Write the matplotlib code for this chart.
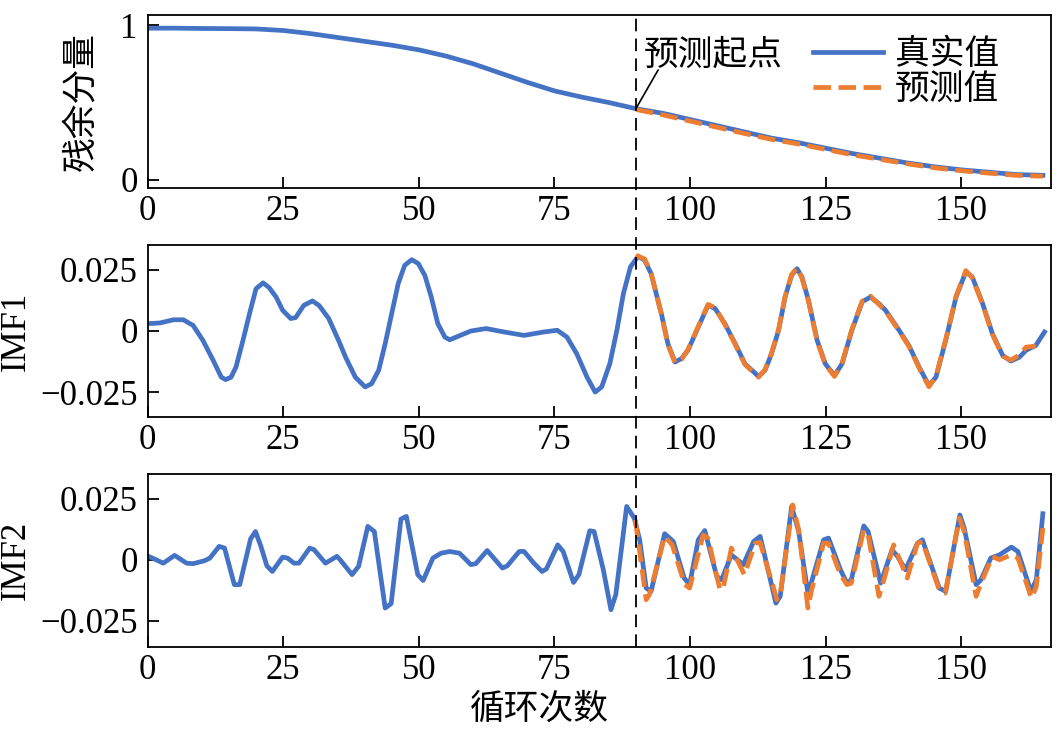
import matplotlib
matplotlib.use("Agg")
import matplotlib.pyplot as plt
from matplotlib.lines import Line2D
from matplotlib.transforms import blended_transform_factory

plt.rcParams['font.family'] = ['Liberation Serif', 'Noto Sans CJK SC']
plt.rcParams['axes.unicode_minus'] = True

blue = '#4472C4'
orange = '#ED7D31'

# 残余分量
res_x = [0, 5, 10, 15, 20, 25, 30, 35, 40, 45, 50, 55, 60, 65, 70, 75, 80, 85,
         90, 95, 100, 105, 110, 115, 120, 125, 130, 135, 140, 145, 150, 155, 160, 165]
res_true = [0.98, 0.98, 0.978, 0.977, 0.975, 0.965, 0.945, 0.92, 0.895, 0.87, 0.84,
            0.80, 0.75, 0.69, 0.63, 0.575, 0.535, 0.50, 0.46, 0.43, 0.39, 0.35,
            0.31, 0.27, 0.24, 0.205, 0.17, 0.14, 0.11, 0.085, 0.065, 0.05, 0.035, 0.03]
res_pred_x = [90, 95, 100, 105, 110, 115, 120, 125, 130, 135, 140, 145, 150, 155, 160, 165]
res_pred = [0.455, 0.42, 0.38, 0.34, 0.30, 0.262, 0.232, 0.197, 0.162, 0.133, 0.104,
            0.079, 0.059, 0.044, 0.03, 0.024]

# IMF1
imf1_x = [0, 2.3, 4.8, 6.6, 8.4, 10.2, 12.1, 13.6, 14.4, 15.4, 16.3, 17.6, 18.8, 20,
          21.3, 22.4, 23.7, 24.9, 26.4, 27.3, 28.8, 30.4, 31.6, 33.4, 35.2, 36.5, 38.3,
          40.1, 41.3, 42.6, 43.8, 45, 46.2, 47.4, 48.7, 49.9, 51.1, 52.3, 53.5, 54.8,
          55.7, 57.2, 59.6, 62.4, 65.7, 69.4, 73, 75.5, 77.3, 79.1, 81, 82.5, 83.7, 85.2,
          86.5, 87.7, 89, 90.4, 91.6, 92.8, 94.7, 95.9, 97.2, 98.4, 99.6, 101.5, 103.3,
          104.6, 106.4, 108.3, 110.1, 112.6, 113.8, 115, 116.3, 117.5, 118.7, 119.7,
          120.6, 121.8, 123.4, 124.9, 126.6, 128, 129.8, 131.7, 133.2, 134.8, 136, 138.5,
          140.3, 142.2, 144, 145.3, 147.1, 149, 150.8, 152, 153.9, 155.7, 157.6, 159.1,
          160.7, 161.9, 163.7, 165.3]
imf1_true = [0.003, 0.0033, 0.0046, 0.0046, 0.0023, -0.0038, -0.012, -0.0189, -0.0199,
             -0.0189, -0.0148, -0.0038, 0.0071, 0.0173, 0.0197, 0.0178, 0.0139, 0.0085,
             0.0051, 0.0055, 0.0105, 0.0123, 0.0105, 0.0051, -0.0038, -0.0107, -0.0189,
             -0.0229, -0.0216, -0.0161, -0.0052, 0.0071, 0.0194, 0.0269, 0.0292, 0.0276,
             0.0228, 0.0139, 0.003, -0.0025, -0.0036, -0.0022, 0.0, 0.001, -0.0004,
             -0.0018, -0.0004, 0.0003, -0.0025, -0.0093, -0.0189, -0.025, -0.0229,
             -0.0134, 0.0003, 0.0153, 0.0262, 0.0306, 0.029, 0.0235, 0.0071, -0.0052,
             -0.0127, -0.0113, -0.0079, 0.0016, 0.0105, 0.0092, 0.003, -0.0052, -0.0134,
             -0.0186, -0.0161, -0.0093, 0.0003, 0.0139, 0.0228, 0.0255, 0.0221, 0.0126,
             -0.0038, -0.0134, -0.0182, -0.0134, 0.0003, 0.0119, 0.0139, 0.0112, 0.0085,
             0.0003, -0.0059, -0.0148, -0.0223, -0.0189, -0.0038, 0.0139, 0.0242, 0.0221,
             0.0112, -0.0011, -0.01, -0.0123, -0.0107, -0.0079, -0.0059, -0.0004]
imf1_pred_x = [90, 91.6, 92.8, 94.7, 95.9, 97.2, 98.4, 99.6, 101.5, 103.3, 104.6, 106.4,
               108.3, 110.1, 112.6, 113.8, 115, 116.3, 117.5, 118.7, 119.7, 120.6, 121.8,
               123.4, 124.9, 126.6, 128, 129.8, 131.7, 133.2, 134.8, 136, 138.5, 140.3,
               142.2, 144, 145.3, 147.1, 149, 150.8, 152, 153.9, 155.7, 157.6, 159.1,
               160.7, 161.9, 163.7]
imf1_pred = [0.031, 0.0295, 0.0238, 0.0068, -0.0055, -0.013, -0.0116, -0.0076, 0.0019,
             0.0109, 0.0095, 0.0027, -0.0055, -0.0137, -0.0189, -0.0158, -0.009, 0.0006,
             0.0142, 0.0231, 0.0259, 0.0218, 0.0123, -0.0041, -0.0137, -0.0186, -0.0131,
             0.0006, 0.0122, 0.0143, 0.0109, 0.0082, 0.0, -0.0062, -0.0151, -0.0228,
             -0.0186, -0.0035, 0.0142, 0.0247, 0.0218, 0.0109, -0.0014, -0.0103, -0.0119,
             -0.0098, -0.0066, -0.0062]

# IMF2
imf2_x = [0, 1.4, 2.9, 5, 7.2, 8.4, 10.5, 11.5, 13.2, 14.2, 16, 17, 19, 19.9, 20.9, 22,
          23, 24.9, 25.8, 27, 27.9, 29.9, 30.7, 32.8, 34.9, 35.5, 37.7, 38.9, 40.6, 41.8,
          43.8, 44.9, 46.7, 47.7, 49.8, 50.8, 52.6, 54.1, 55.7, 57.5, 59.6, 60.5, 62.6,
          63.3, 65.4, 66.3, 68.5, 69.4, 71.2, 72.7, 73.5, 75.6, 76.6, 78.5, 79.5, 81.5,
          82.3, 84, 85.4, 86.3, 88.3, 89.7, 90.7, 91.9, 92.8, 95.3, 96.9, 98.9, 99.9,
          101.5, 102.7, 104.9, 105.8, 107.6, 109.8, 111.7, 112.9, 115.8, 116.6, 118.7,
          120, 121.7, 122.4, 124.6, 125.5, 127.7, 128.9, 129.7, 132, 132.8, 135.1, 137.2,
          138.2, 139.7, 141.9, 142.8, 145.9, 147.1, 149.7, 150.5, 152.7, 153.6, 155.4,
          157, 159.2, 160.4, 162.8, 163.8, 165]
imf2_true = [0.0016, 0.0002, -0.0014, 0.0018, -0.0014, -0.0016, -0.0004, 0.0007, 0.0055,
             0.0048, -0.0102, -0.0102, 0.0086, 0.0116, 0.0055, -0.0025, -0.0048, 0.0011,
             0.0007, -0.0014, -0.0014, 0.0048, 0.0041, -0.0014, 0.0014, 0.0, -0.0061,
             -0.0027, 0.0137, 0.0116, -0.0198, -0.018, 0.0167, 0.0178, -0.0061, -0.0085,
             0.0007, 0.0027, 0.0034, 0.0027, -0.002, -0.0016, 0.0038, 0.002, -0.0034,
             -0.0025, 0.0034, 0.0034, -0.0014, -0.0048, -0.0038, 0.0061, 0.0034, -0.0093,
             -0.0061, 0.0119, 0.0116, -0.0041, -0.0205, -0.0143, 0.0219, 0.0171, 0.0082,
             -0.0116, -0.013, 0.0107, 0.0075, -0.0075, -0.0102, 0.0082, 0.012, -0.0068,
             -0.0082, 0.002, -0.002, 0.0075, 0.0096, -0.0178, -0.015, 0.0219, 0.0116,
             -0.0137, -0.0089, 0.0082, 0.0089, -0.0041, -0.0096, -0.0082, 0.0139, 0.0116,
             -0.0096, 0.0041, 0.0014, -0.0041, 0.0068, 0.0082, -0.0116, -0.013, 0.0184,
             0.013, -0.0102, -0.0082, 0.0007, 0.002, 0.0052, 0.0034, -0.013, -0.0082, 0.0189]
imf2_pred_x = [89.9, 91.9, 92.5, 95.3, 96.7, 99, 99.9, 102.4, 103.3, 105.5, 106.1, 107.6,
               110, 112, 112.9, 116, 116.6, 118.9, 120, 121.7, 122.4, 124.6, 125.5, 127.7,
               128.9, 129.7, 132, 132.8, 134.8, 135.7, 137.5, 140, 141.9, 142.8, 145.9,
               147, 149.6, 150.5, 152.7, 153.6, 155.7, 157, 159.2, 160.4, 162.9, 163.8, 165]
imf2_pred = [0.0164, -0.0164, -0.0143, 0.0096, 0.0061, -0.0102, -0.0116, 0.0102, 0.0088,
             -0.0123, -0.0116, 0.0048, -0.0061, 0.0068, 0.0071, -0.0164, -0.0143, 0.0225,
             0.0123, -0.0198, -0.0123, 0.0068, 0.0068, -0.0061, -0.0102, -0.0096, 0.0123,
             0.0102, -0.015, -0.0082, 0.0061, -0.0075, 0.0068, 0.0075, -0.0123, -0.0137,
             0.0171, 0.0116, -0.015, -0.0096, 0.0014, 0.0, 0.002, 0.0007, -0.0157,
             -0.0109, 0.013]

fig = plt.figure(figsize=(10.56, 7.29), dpi=100)
W, H = 1056, 729
left = 147.5 / W
width = (1051 - 147.5) / W
boxes = [(15, 188), (245, 417), (474, 647)]
axes = []
for top, bot in boxes:
    ax = fig.add_axes([left, 1 - bot / H, width, (bot - top) / H])
    axes.append(ax)
ax1, ax2, ax3 = axes

lw = 3.4
ax1.plot(res_x, res_true, color=blue, lw=lw, label='真实值')
ax1.plot(res_pred_x, res_pred, color=orange, lw=lw, ls='--', label='预测值')
ax2.plot(imf1_x, imf1_true, color=blue, lw=lw)
ax2.plot(imf1_pred_x, imf1_pred, color=orange, lw=lw, ls='--')
ax3.plot(imf2_x, imf2_true, color=blue, lw=lw)
ax3.plot(imf2_pred_x, imf2_pred, color=orange, lw=lw, ls='--')

fs = 25
for ax in axes:
    ax.set_xlim(0, 166.5)
    ax.set_xticks([0, 25, 50, 75, 100, 125, 150])
    ax.tick_params(direction='in', length=8, width=1.3, labelsize=fs, top=False, right=False)
    ax.tick_params(axis='x', pad=5)
    ax.tick_params(axis='y', pad=7)
    for s in ax.spines.values():
        s.set_linewidth(1.3)

ax1.set_ylim(-0.052, 1.065)
ax1.set_yticks([0, 1])
ax1.set_yticklabels(['0', '1'])
ax2.set_ylim(-0.0352, 0.0352)
ax3.set_ylim(-0.0358, 0.0352)
for ax in (ax2, ax3):
    ax.set_yticks([-0.025, 0, 0.025])
    ax.set_yticklabels(['\u22120.025', '0', '0.025'])

ax1.set_ylabel('残余分量', fontsize=fs)
ax1.yaxis.set_label_coords(-0.054, 0.5)
ax2.set_ylabel('IMF1', fontsize=fs)
ax2.yaxis.set_label_coords(-0.127, 0.5)
ax3.set_ylabel('IMF2', fontsize=fs)
ax3.yaxis.set_label_coords(-0.127, 0.5)
fig.text(539 / W, 1 - 710 / H, '循环次数', fontsize=fs, ha='center', va='center')

ax1.legend(loc='upper right', bbox_to_anchor=(0.958, 0.94), frameon=False, fontsize=fs,
           handlelength=2.0, handletextpad=0.35, labelspacing=0.05, borderaxespad=0.0)

ax1.text(91.5, 0.80, '预测起点', fontsize=fs, ha='left', va='center')
ax1.annotate('', xy=(90, 0.46), xytext=(94.1, 0.71),
             arrowprops=dict(arrowstyle='-', color='black', lw=1.2, shrinkA=0, shrinkB=0))

# vertical dashed line through all panels at the prediction start
trans = blended_transform_factory(ax3.transData, fig.transFigure)
fig.add_artist(Line2D([90, 90], [1 - 647 / H, 1 - 15 / H], transform=trans,
                      color='black', lw=1.3, ls=(0, (7, 4))))

fig.savefig('out.png', dpi=100)
